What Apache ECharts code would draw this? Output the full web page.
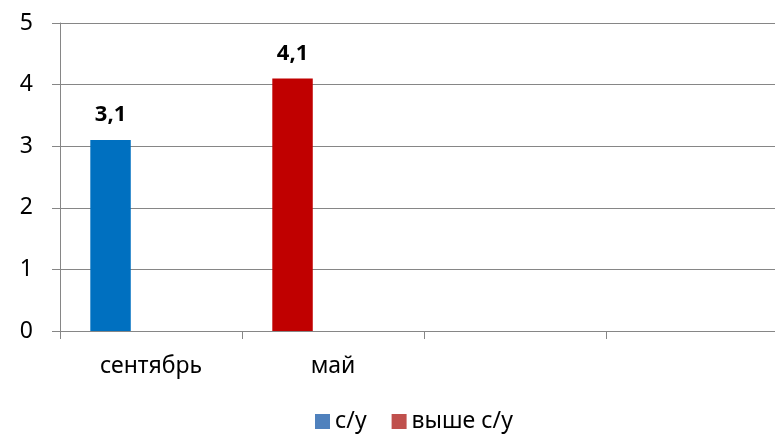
<!DOCTYPE html>
<html>
<head>
<meta charset="utf-8">
<script src="https://cdn.jsdelivr.net/npm/echarts@6/dist/echarts.min.js"></script>
<style>
html,body{margin:0;padding:0;background:#fff;overflow:hidden;width:775px;height:435px;}
#chart{width:792px;height:435px;}
</style>
</head>
<body>
<div id="chart"></div>
<script>
const categories = ['сентябрь', 'май', '', ''];
const seriesNames = ['с/у', 'выше с/у'];
const valuesSU = [3.1, '-', '-', '-'];
const valuesAbove = ['-', 4.1, '-', '-'];
const yTicks = [0, 1, 2, 3, 4, 5];

const FONT = 'Noto Sans';
const chart = echarts.init(document.getElementById('chart'), null, {renderer: 'canvas'});
const labelCfg = {
  show: true,
  position: 'top',
  distance: 14,
  fontFamily: FONT,
  fontSize: 22,
  fontWeight: 'bold',
  color: '#000',
  formatter: p => String(p.value).replace('.', ',')
};
chart.setOption({
  animation: false,
  grid: {left: 60, top: 23, right: 4, bottom: 104, containLabel: false},
  legend: {
    left: 310, top: 405,
    itemWidth: 15, itemHeight: 15, itemGap: 25,
    icon: 'rect',
    textStyle: {fontFamily: FONT, fontSize: 23, color: '#000'},
    data: [
      {name: seriesNames[0], itemStyle: {color: '#4F81BD'}},
      {name: seriesNames[1], itemStyle: {color: '#C0504D'}}
    ]
  },
  xAxis: {
    type: 'category',
    data: categories,
    boundaryGap: true,
    axisLine: {show: true, lineStyle: {color: '#868686', width: 1}},
    axisTick: {show: true, length: 8, alignWithLabel: false, lineStyle: {color: '#868686'}},
    axisLabel: {fontFamily: FONT, fontSize: 23, color: '#000', margin: 24, interval: 0},
    splitLine: {show: false}
  },
  yAxis: {
    type: 'value',
    min: yTicks[0], max: yTicks[yTicks.length - 1], interval: 1,
    axisLine: {show: true, lineStyle: {color: '#868686', width: 1}},
    axisTick: {show: true, length: 8, lineStyle: {color: '#868686'}},
    axisLabel: {fontFamily: FONT, fontSize: 23, color: '#000', margin: 27},
    splitLine: {show: true, lineStyle: {color: '#868686', width: 1}}
  },
  series: [
    {name: seriesNames[0], type: 'bar', stack: 'main', data: valuesSU,
     itemStyle: {color: '#0070C0'}, label: labelCfg,
     barGap: 0, barCategoryGap: '33.3%'},
    {name: seriesNames[1], type: 'bar', stack: 'main', data: valuesAbove,
     itemStyle: {color: '#C00000'}, label: labelCfg,
     barGap: 0, barCategoryGap: '33.3%'},
    {name: 'spacer1', type: 'bar', stack: 's1', data: [], barGap: 0, barCategoryGap: '33.3%'},
    {name: 'spacer2', type: 'bar', stack: 's2', data: [], barGap: 0, barCategoryGap: '33.3%'}
  ]
});
</script>
</body>
</html>
